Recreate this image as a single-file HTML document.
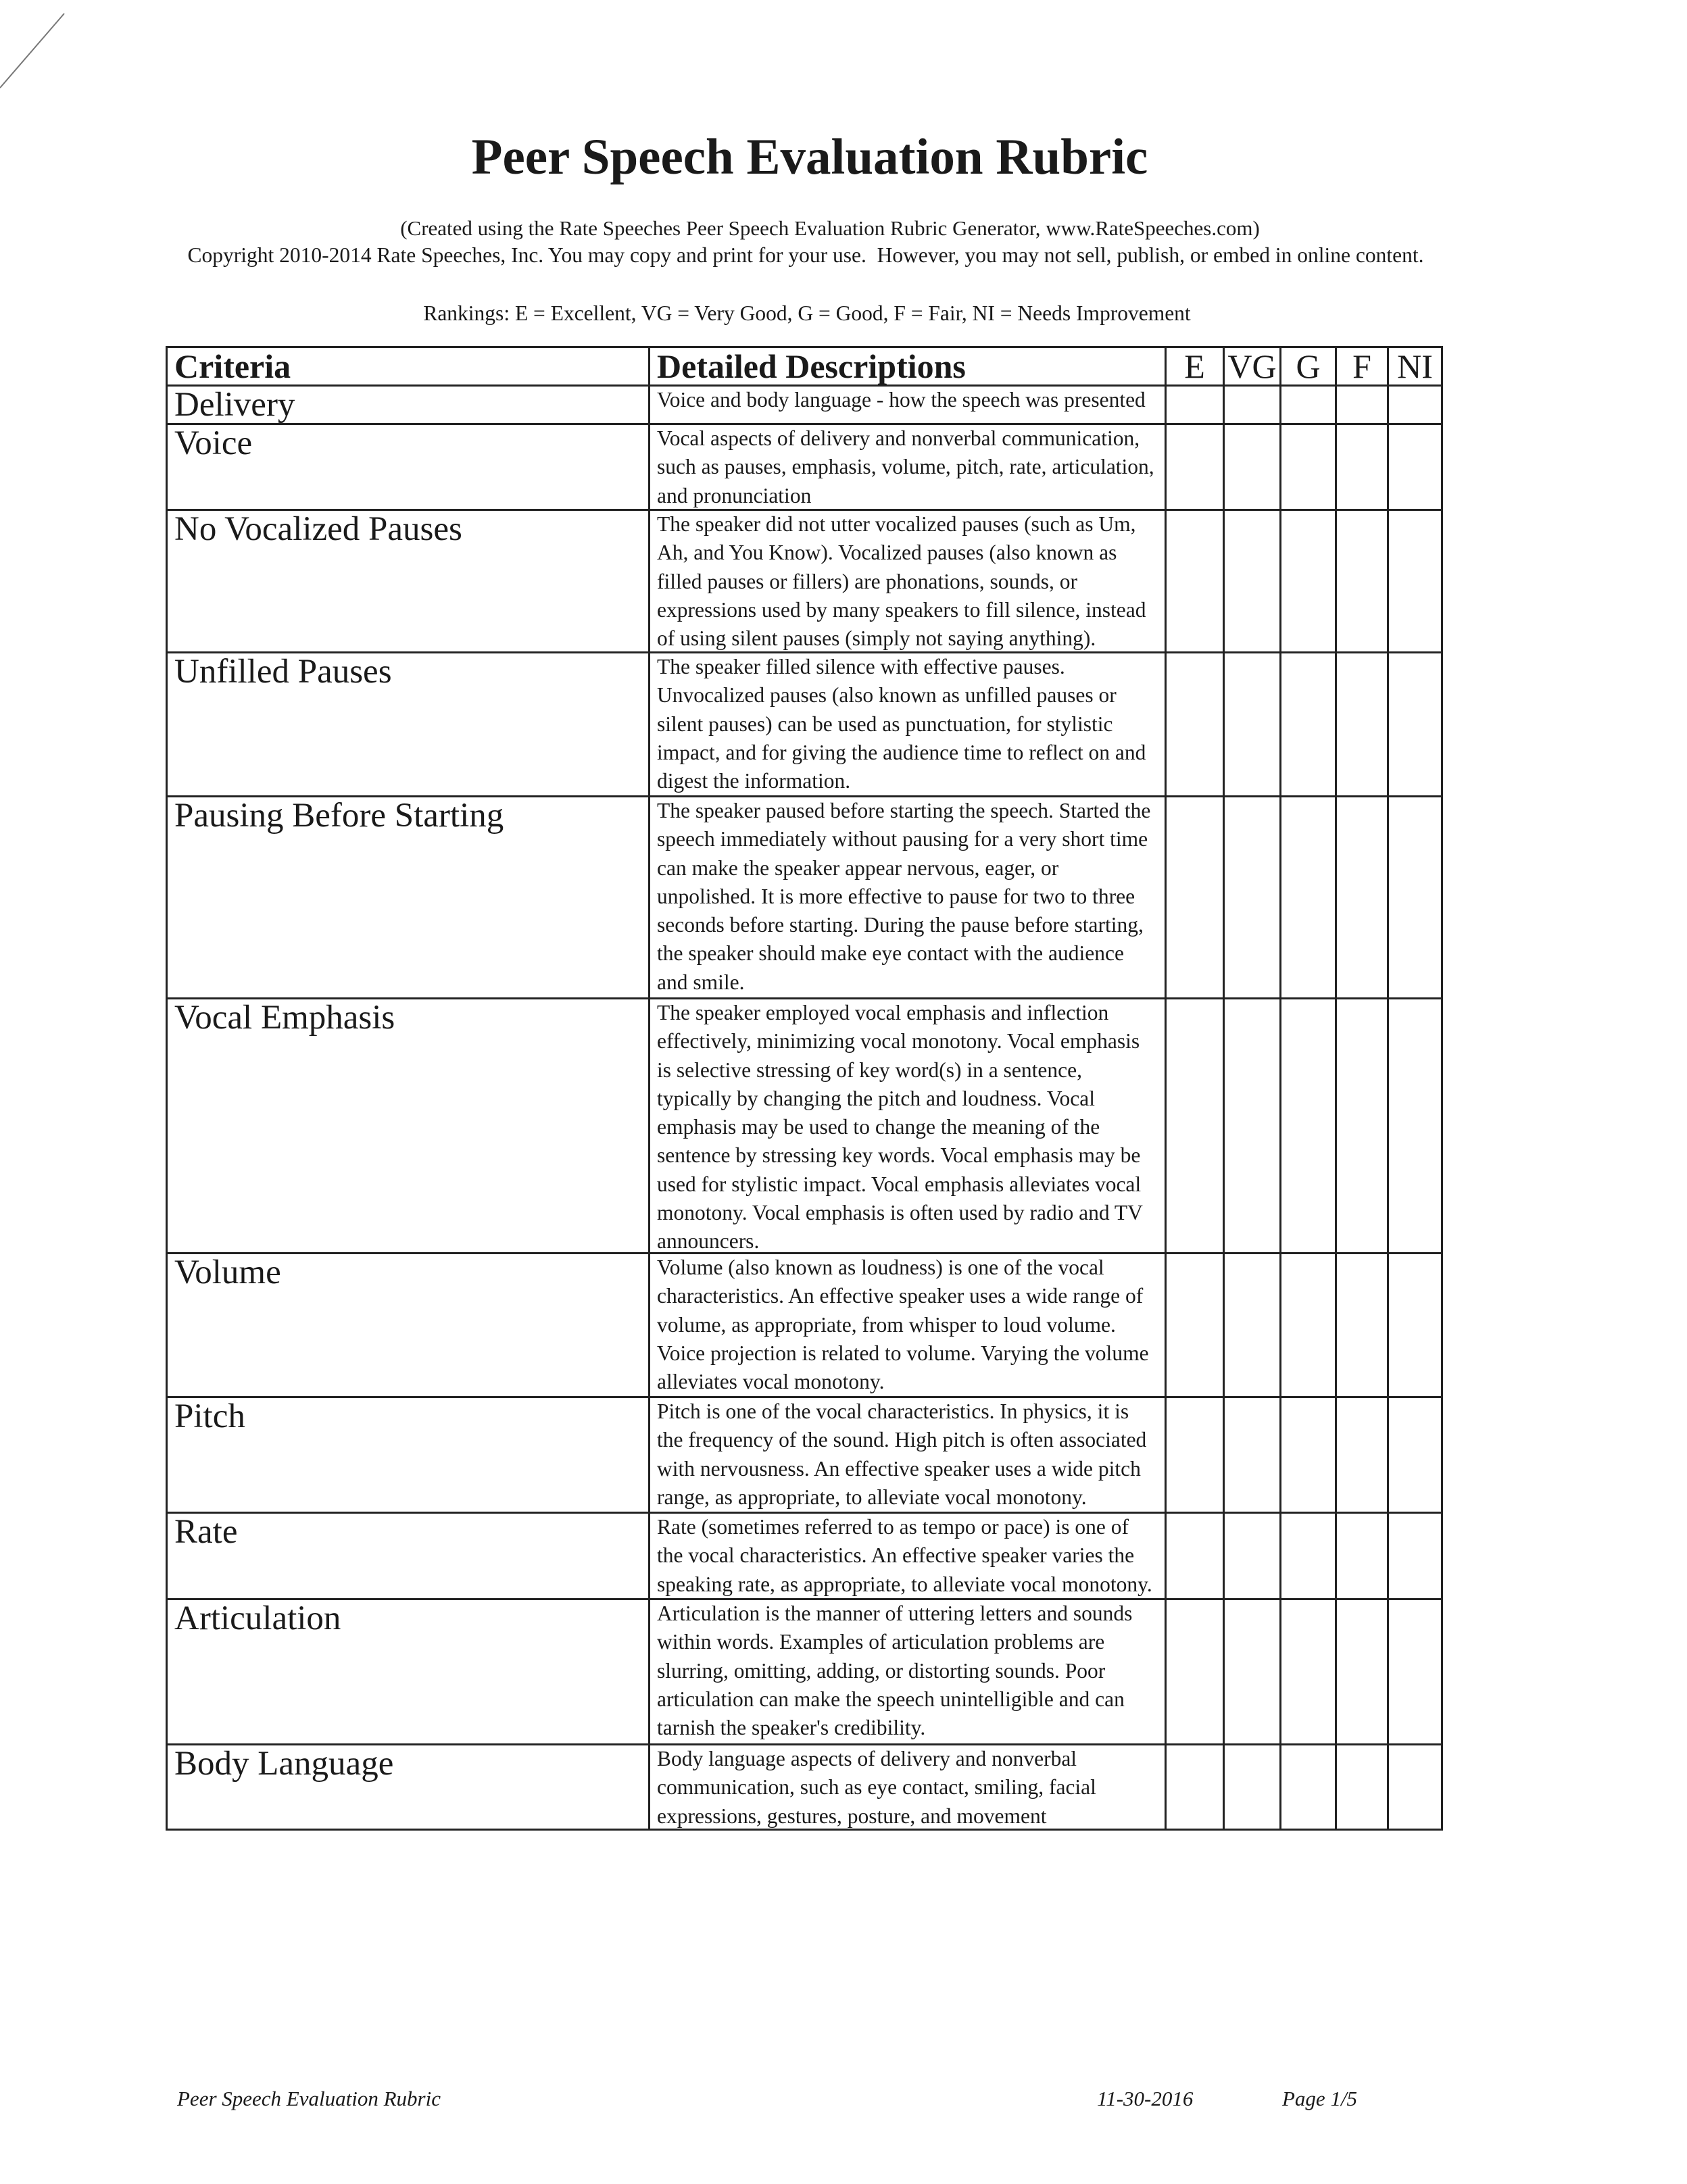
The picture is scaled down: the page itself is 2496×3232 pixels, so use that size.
<!DOCTYPE html>
<html><head><meta charset="utf-8"><style>
html,body{margin:0;padding:0;background:#fff;}
body{width:2496px;height:3232px;position:relative;overflow:hidden;font-family:"Liberation Serif",serif;color:#1a1a1a;}
.c{position:absolute;left:0;width:2496px;text-align:center;white-space:nowrap;}
table{position:absolute;left:245px;top:512px;border-collapse:collapse;table-layout:fixed;}
td{border:3px solid #222;vertical-align:top;padding:0 0 0 10px;overflow:visible;}
.cr{font-size:51px;line-height:54px;white-space:nowrap;}
.d{font-size:31.5px;line-height:42.3px;padding-top:0;white-space:nowrap;}
.d div{margin-bottom:-60px;margin-top:-1px;}
.h{font-weight:bold;font-size:50px;line-height:54px;white-space:nowrap;}
.g{font-size:50px;line-height:54px;text-align:center;padding:0;}
.f{position:absolute;top:3088px;font-style:italic;font-size:31px;white-space:nowrap;}
</style></head><body>
<svg style="position:absolute;left:0;top:0" width="100" height="140"><line x1="0" y1="130" x2="95" y2="20" stroke="#777" stroke-width="2"/></svg>
<div class="c" style="top:190px;font-size:75px;font-weight:bold;left:-50px;">Peer Speech Evaluation Rubric</div>
<div class="c" style="top:320px;font-size:31px;left:-20px;">(Created using the Rate Speeches Peer Speech Evaluation Rubric Generator, www.RateSpeeches.com)</div>
<div class="c" style="top:360px;font-size:31.5px;left:-56px;">Copyright 2010-2014 Rate Speeches, Inc. You may copy and print for your use.&nbsp; However, you may not sell, publish, or embed in online content.</div>
<div class="c" style="top:446px;font-size:31.5px;left:-54px;">Rankings: E = Excellent, VG = Very Good, G = Good, F = Fair, NI = Needs Improvement</div>
<table>
<colgroup><col style="width:714px"><col style="width:764px"><col style="width:86px"><col style="width:84px"><col style="width:82px"><col style="width:77px"><col style="width:80px"></colgroup>
<tr style="height:56px"><td class="h">Criteria</td><td class="h">Detailed Descriptions</td><td class="g">E</td><td class="g">VG</td><td class="g">G</td><td class="g">F</td><td class="g">NI</td></tr>
<tr style="height:53px"><td class="cr">Delivery</td><td class="d"><div>Voice and body language - how the speech was presented</div></td><td></td><td></td><td></td><td></td><td></td></tr>
<tr style="height:127px"><td class="cr">Voice</td><td class="d"><div>Vocal aspects of delivery and nonverbal communication,<br>such as pauses, emphasis, volume, pitch, rate, articulation,<br>and pronunciation</div></td><td></td><td></td><td></td><td></td><td></td></tr>
<tr style="height:211px"><td class="cr">No Vocalized Pauses</td><td class="d"><div>The speaker did not utter vocalized pauses (such as Um,<br>Ah, and You Know). Vocalized pauses (also known as<br>filled pauses or fillers) are phonations, sounds, or<br>expressions used by many speakers to fill silence, instead<br>of using silent pauses (simply not saying anything).</div></td><td></td><td></td><td></td><td></td><td></td></tr>
<tr style="height:213px"><td class="cr">Unfilled Pauses</td><td class="d"><div>The speaker filled silence with effective pauses.<br>Unvocalized pauses (also known as unfilled pauses or<br>silent pauses) can be used as punctuation, for stylistic<br>impact, and for giving the audience time to reflect on and<br>digest the information.</div></td><td></td><td></td><td></td><td></td><td></td></tr>
<tr style="height:299px"><td class="cr">Pausing Before Starting</td><td class="d"><div>The speaker paused before starting the speech. Started the<br>speech immediately without pausing for a very short time<br>can make the speaker appear nervous, eager, or<br>unpolished. It is more effective to pause for two to three<br>seconds before starting. During the pause before starting,<br>the speaker should make eye contact with the audience<br>and smile.</div></td><td></td><td></td><td></td><td></td><td></td></tr>
<tr style="height:377px"><td class="cr">Vocal Emphasis</td><td class="d"><div>The speaker employed vocal emphasis and inflection<br>effectively, minimizing vocal monotony. Vocal emphasis<br>is selective stressing of key word(s) in a sentence,<br>typically by changing the pitch and loudness. Vocal<br>emphasis may be used to change the meaning of the<br>sentence by stressing key words. Vocal emphasis may be<br>used for stylistic impact. Vocal emphasis alleviates vocal<br>monotony. Vocal emphasis is often used by radio and TV<br>announcers.</div></td><td></td><td></td><td></td><td></td><td></td></tr>
<tr style="height:213px"><td class="cr">Volume</td><td class="d"><div>Volume (also known as loudness) is one of the vocal<br>characteristics. An effective speaker uses a wide range of<br>volume, as appropriate, from whisper to loud volume.<br>Voice projection is related to volume. Varying the volume<br>alleviates vocal monotony.</div></td><td></td><td></td><td></td><td></td><td></td></tr>
<tr style="height:171px"><td class="cr">Pitch</td><td class="d"><div>Pitch is one of the vocal characteristics. In physics, it is<br>the frequency of the sound. High pitch is often associated<br>with nervousness. An effective speaker uses a wide pitch<br>range, as appropriate, to alleviate vocal monotony.</div></td><td></td><td></td><td></td><td></td><td></td></tr>
<tr style="height:128px"><td class="cr">Rate</td><td class="d"><div>Rate (sometimes referred to as tempo or pace) is one of<br>the vocal characteristics. An effective speaker varies the<br>speaking rate, as appropriate, to alleviate vocal monotony.</div></td><td></td><td></td><td></td><td></td><td></td></tr>
<tr style="height:215px"><td class="cr">Articulation</td><td class="d"><div>Articulation is the manner of uttering letters and sounds<br>within words. Examples of articulation problems are<br>slurring, omitting, adding, or distorting sounds. Poor<br>articulation can make the speech unintelligible and can<br>tarnish the speaker's credibility.</div></td><td></td><td></td><td></td><td></td><td></td></tr>
<tr style="height:126px"><td class="cr">Body Language</td><td class="d"><div>Body language aspects of delivery and nonverbal<br>communication, such as eye contact, smiling, facial<br>expressions, gestures, posture, and movement</div></td><td></td><td></td><td></td><td></td><td></td></tr>
</table>
<div class="f" style="left:262px;">Peer Speech Evaluation Rubric</div>
<div class="f" style="left:1623px;">11-30-2016</div>
<div class="f" style="left:1897px;">Page 1/5</div>
</body></html>
